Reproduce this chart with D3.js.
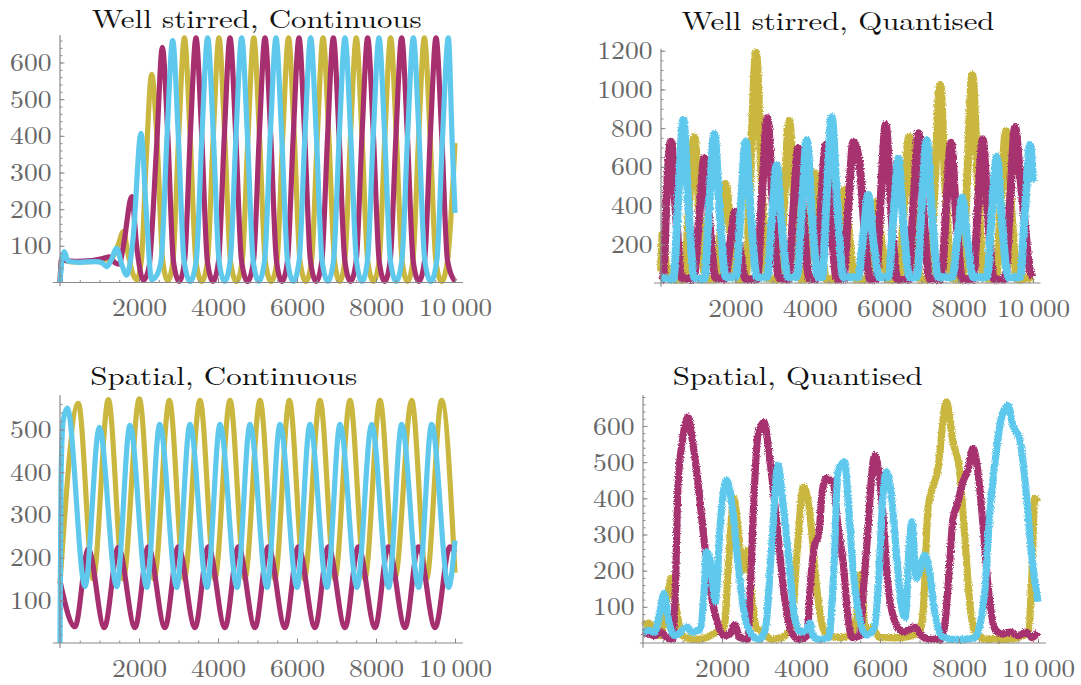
<!DOCTYPE html>
<html>
<head>
<meta charset="utf-8">
<script src="https://cdn.jsdelivr.net/npm/d3@7"></script>
<style>
  body { margin: 0; background: #fff; }
  svg { display: block; }
  .tick text { font-family: "Latin Modern Roman", "CMU Serif", "Liberation Serif", serif; font-size: 25px; fill: #666; }
  .title { font-family: "Latin Modern Roman", "CMU Serif", "Liberation Serif", serif; font-size: 26px; fill: #111; }
</style>
</head>
<body>
<svg id="chart" width="1081" height="685">
  <defs>
    <!-- ragged edges for the stochastic (quantised) traces -->
    <filter id="ragged" x="-2%" y="-5%" width="104%" height="110%">
      <feTurbulence type="fractalNoise" baseFrequency="0.9" numOctaves="1" seed="4" result="noise"/>
      <feDisplacementMap in="SourceGraphic" in2="noise" scale="4" xChannelSelector="R" yChannelSelector="G"/>
    </filter>
  </defs>
</svg>
<script>
// ---- Series: [time, amount] ----

// Well stirred, continuous
const wsContYellow = [[0,0],[40,62],[120,60],[300,56],[600,56],[900,58],[1150,62],[1350,72],[1480,105],[1603,139],[1720,80],[1840,25],[1942,8],[2060,60],[2180,330],[2321,568],[2460,380],[2600,60],[2730,5],[2860,60],[3005,400],[3150,667],[3295,400],[3440,60],[3588,3],[3735,60],[3880,400],[4025,667],[4170,400],[4315,60],[4465,3],[4615,60],[4760,400],[4905,667],[5050,400],[5195,60],[5345,3],[5495,60],[5640,400],[5785,667],[5930,400],[6075,60],[6223,3],[6370,60],[6515,400],[6660,667],[6805,400],[6950,60],[7080,3],[7210,60],[7355,400],[7500,667],[7645,400],[7790,60],[7935,3],[8080,60],[8225,400],[8370,667],[8515,400],[8660,60],[8797,3],[8935,60],[9080,400],[9224,667],[9370,400],[9515,60],[9660,3],[9810,60],[10000,380]];
const wsContMagenta = [[0,0],[40,64],[120,60],[400,58],[800,60],[1100,66],[1250,70],[1380,55],[1500,50],[1620,110],[1814,234],[1950,90],[2110,6],[2250,40],[2450,380],[2591,641],[2730,400],[2870,60],[3017,3],[3155,60],[3298,400],[3443,667],[3588,400],[3730,60],[3873,3],[4015,60],[4160,400],[4304,667],[4450,400],[4595,60],[4747,3],[4900,60],[5045,400],[5190,667],[5335,400],[5480,60],[5620,3],[5760,60],[5905,400],[6051,667],[6195,400],[6340,60],[6485,3],[6630,60],[6775,400],[6920,667],[7065,400],[7210,60],[7355,3],[7500,60],[7645,400],[7789,667],[7935,400],[8080,60],[8220,3],[8360,60],[8505,400],[8650,667],[8795,400],[8940,60],[9085,3],[9230,60],[9375,400],[9519,667],[9665,400],[9810,60],[10000,3]];
const wsContCyan = [[0,0],[50,62],[109,84],[200,58],[500,55],[900,57],[1060,54],[1181,43],[1300,62],[1435,93],[1560,50],[1688,20],[1850,120],[2051,407],[2180,200],[2320,8],[2450,20],[2560,60],[2710,400],[2852,660],[2995,400],[3140,60],[3295,3],[3450,60],[3593,400],[3738,667],[3883,400],[4025,60],[4168,3],[4310,60],[4455,400],[4599,667],[4745,400],[4890,60],[5033,3],[5180,60],[5323,400],[5468,667],[5613,400],[5760,60],[5907,3],[6055,60],[6200,400],[6346,667],[6490,400],[6635,60],[6780,3],[6925,60],[7070,400],[7215,667],[7360,400],[7505,60],[7645,3],[7785,60],[7930,400],[8076,667],[8220,400],[8365,60],[8510,3],[8655,60],[8800,400],[8945,667],[9090,400],[9235,60],[9388,3],[9540,60],[9686,400],[9831,667],[9930,380],[10000,190]];

// Well stirred, quantised
const wsQuantYellow = [[0,60],[50,250],[130,100],[250,20],[620,20],[760,420],[896,756],[1030,380],[1200,20],[1470,20],[1610,280],[1738,511],[1870,260],[2040,20],[2270,20],[2420,650],[2554,1190],[2690,600],[2860,25],[3180,20],[3320,460],[3449,837],[3580,420],[3760,20],[3880,20],[4010,310],[4140,567],[4270,290],[4440,20],[4670,20],[4800,260],[4930,480],[5060,240],[5230,20],[5540,20],[5670,230],[5798,417],[5930,210],[6100,20],[6400,20],[6540,420],[6667,756],[6800,380],[6970,20],[7220,20],[7370,560],[7500,1023],[7640,510],[7810,25],[8090,20],[8240,590],[8369,1075],[8510,540],[8680,25],[9000,20],[9140,430],[9274,787],[9410,400],[9580,20],[10000,30]];
const wsQuantMagenta = [[0,10],[60,30],[150,450],[269,730],[400,360],[560,25],[870,20],[1030,350],[1165,644],[1300,320],[1470,25],[1720,20],[1860,200],[1989,368],[2120,180],[2280,20],[2580,20],[2720,470],[2858,851],[3000,420],[3170,25],[3420,20],[3560,380],[3691,696],[3830,340],[3990,20],[4170,20],[4300,390],[4427,713],[4560,350],[4730,20],[4900,20],[5040,400],[5170,730],[5350,590],[5480,250],[5620,20],[5780,20],[5910,450],[6040,816],[6180,400],[6350,20],[6650,20],[6790,420],[6917,773],[7050,380],[7220,20],[7530,20],[7670,400],[7796,725],[7930,360],[8100,20],[8390,20],[8520,400],[8648,742],[8780,370],[8950,20],[9250,20],[9390,440],[9516,804],[9650,560],[9785,300],[9900,80],[10000,30]];
const wsQuantCyan = [[0,30],[100,25],[330,20],[470,460],[600,842],[730,420],[900,25],[1160,20],[1300,420],[1433,770],[1570,390],[1740,30],[2010,30],[2150,400],[2276,730],[2410,370],[2580,30],[2850,30],[2980,330],[3110,610],[3240,310],[3410,30],[3650,30],[3790,400],[3917,739],[4050,370],[4220,30],[4330,30],[4460,470],[4588,856],[4730,430],[4900,30],[5300,30],[5440,250],[5573,455],[5700,230],[5870,30],[6110,30],[6250,350],[6379,640],[6510,320],[6680,30],[6880,30],[7010,400],[7142,739],[7280,370],[7450,30],[7830,30],[7970,240],[8100,441],[8230,220],[8400,30],[8760,30],[8890,360],[9024,652],[9160,330],[9330,30],[9650,30],[9790,390],[9919,713],[10000,520]];

// Spatial, continuous
const spContYellow = [[0,140],[464,561],[839,150],[1224,570],[1599,150],[2008,572],[2383,150],[2768,568],[3143,150],[3544,568],[3919,150],[4304,568],[4679,150],[5063,568],[5438,150],[5806,568],[6181,150],[6582,568],[6957,150],[7342,568],[7717,150],[8101,568],[8476,150],[8903,568],[9278,150],[9662,568],[10000,165]];
const spContMagenta = [[0,145],[380,38],[717,220],[1122,36],[1477,224],[1899,36],[2236,225],[2658,36],[2996,225],[3418,36],[3755,225],[4177,36],[4515,225],[4937,36],[5274,225],[5697,36],[6034,225],[6457,36],[6793,225],[7217,36],[7553,225],[7977,36],[8312,225],[8737,36],[9072,225],[9497,36],[9873,225],[10000,212]];
const spContCyan = [[0,0],[25,380],[80,520],[186,550],[633,132],[996,505],[1435,132],[1772,510],[2194,130],[2525,512],[2955,130],[3291,512],[3721,130],[4051,512],[4481,130],[4810,512],[5240,130],[5570,512],[6000,130],[6329,512],[6759,130],[7089,512],[7519,130],[7890,512],[8320,130],[8650,512],[9080,130],[9409,512],[9839,130],[10000,240]];

// Spatial, quantised
const spQuantYellow = [[0,50],[150,55],[300,25],[450,20],[600,120],[717,179],[850,90],[1000,20],[1300,10],[1600,15],[1850,30],[2050,40],[2180,250],[2300,400],[2420,300],[2520,200],[2640,255],[2760,120],[2880,40],[3050,30],[3250,10],[3500,15],[3750,40],[3900,250],[4060,432],[4200,380],[4400,150],[4560,40],[4700,20],[5000,15],[5300,25],[5450,120],[5520,190],[5620,40],[5800,40],[6000,15],[6500,15],[7000,30],[7100,100],[7215,372],[7468,483],[7680,667],[7848,556],[8017,473],[8144,298],[8270,114],[8400,31],[8700,10],[9200,10],[9500,15],[9750,30],[9850,200],[9916,400],[10000,390]];
const spQuantMagenta = [[0,30],[150,25],[300,20],[450,30],[600,15],[750,10],[820,150],[886,436],[1000,560],[1139,625],[1250,560],[1350,483],[1561,271],[1688,160],[1899,50],[2050,20],[2200,25],[2321,50],[2450,15],[2650,10],[2700,100],[2785,344],[2911,575],[3063,611],[3207,510],[3418,298],[3587,123],[3755,30],[3950,10],[4150,20],[4250,180],[4346,271],[4450,300],[4540,420],[4641,455],[4818,440],[4937,320],[5070,220],[5190,68],[5300,15],[5500,20],[5580,150],[5654,252],[5865,519],[6033,410],[6203,160],[6413,50],[6600,30],[6878,45],[7050,20],[7300,10],[7544,10],[7650,60],[7750,200],[7848,344],[7950,380],[8101,446],[8230,480],[8354,538],[8480,473],[8608,326],[8734,160],[8903,40],[9100,25],[9300,30],[9500,20],[9700,30],[9850,15],[10000,30]];
const spQuantCyan = [[0,30],[150,35],[300,30],[420,80],[532,137],[650,60],[800,20],[1000,35],[1100,45],[1250,30],[1450,40],[1550,150],[1603,252],[1700,230],[1831,114],[1950,320],[2109,450],[2278,360],[2405,220],[2574,75],[2743,25],[2950,10],[3100,40],[3249,252],[3418,492],[3530,400],[3671,252],[3840,70],[4000,30],[4150,40],[4228,55],[4300,20],[4440,10],[4700,15],[4830,200],[4937,475],[5106,501],[5190,400],[5316,206],[5485,68],[5654,22],[5850,40],[5960,160],[6076,410],[6160,473],[6287,410],[6413,252],[6540,105],[6640,70],[6730,252],[6810,335],[6920,179],[7000,200],[7131,243],[7250,200],[7384,85],[7553,20],[7800,10],[8100,10],[8400,15],[8550,60],[8651,140],[8777,354],[8945,529],[9071,621],[9240,657],[9367,600],[9536,565],[9705,410],[9831,252],[10000,114]];

// ---- Tick labels ----
const xTickValues = [2000, 4000, 6000, 8000, 10000];
const yTicksWsCont = [100, 200, 300, 400, 500, 600];
const yTicksWsQuant = [200, 400, 600, 800, 1000, 1200];
const yTicksSpCont = [100, 200, 300, 400, 500];
const yTicksSpQuant = [100, 200, 300, 400, 500, 600];

const titles = ["Well stirred, Continuous", "Well stirred, Quantised", "Spatial, Continuous", "Spatial, Quantised"];

// ---- Styling ----
const seriesColors = ["#c9b740", "#a6306f", "#5fc8ed"];
const axisColor = "#8a8a8a";

// Frame of each panel: pixel positions of t=0 / t=10000 and of two reference values
const layouts = [
  { px0: 60,  px1: 455,  py0: 282.5, yRefVal: 600,  pyRef: 62.5,  axX: [-180, 10200], axY: [-10, 675],  yMinor: 20, title: [256.7, 28, 330], width: 5.2, ragged: false },
  { px0: 661, px1: 1033, py0: 283,   yRefVal: 1200, pyRef: 50.7,  axX: [-190, 10200], axY: [-20, 1210], yMinor: 50, title: [838, 30, 313], width: 8,   ragged: true },
  { px0: 60,  px1: 455,  py0: 643,   yRefVal: 500,  pyRef: 429.5, axX: [-180, 10200], axY: [-12, 580],  yMinor: 20, title: [223.7, 385, 267], width: 5.2, ragged: false },
  { px0: 643, px1: 1038, py0: 643,   yRefVal: 600,  pyRef: 426,   axX: [-80, 10200],  axY: [-13, 685],  yMinor: 20, title: [797.7, 385, 250], width: 7.2, ragged: true }
];

const panelSeries = [
  [wsContYellow, wsContMagenta, wsContCyan],
  [wsQuantYellow, wsQuantMagenta, wsQuantCyan],
  [spContYellow, spContMagenta, spContCyan],
  [spQuantYellow, spQuantMagenta, spQuantCyan]
];
const panelYTicks = [yTicksWsCont, yTicksWsQuant, yTicksSpCont, yTicksSpQuant];

const svg = d3.select("#chart");

const fmt = d => d >= 10000 ? d3.format(",")(d).replace(",", "\u2009") : String(d);
const labelWidth = s => s.replace(/\u2009/g, "").length * 13.8 + (s.includes("\u2009") ? 4 : 0);

layouts.forEach((L, i) => {
  const g = svg.append("g");
  const x = d3.scaleLinear().domain([0, 10000]).range([L.px0, L.px1]);
  const y = d3.scaleLinear().domain([0, L.yRefVal]).range([L.py0, L.pyRef]);

  // curves
  const line = d3.line().x(d => x(d[0])).y(d => y(d[1])).curve(d3.curveMonotoneX);
  const traces = g.append("g");
  if (L.ragged) traces.attr("filter", "url(#ragged)");
  panelSeries[i].forEach((s, k) => {
    traces.append("path")
      .attr("d", line(s))
      .attr("fill", "none")
      .attr("stroke", seriesColors[k])
      .attr("stroke-width", L.width)
      .attr("stroke-linejoin", "round");
  });

  // axes
  const axes = g.append("g").attr("color", axisColor);
  const xMinor = d3.range(500, L.axX[1], 500);
  const yMinor = d3.range(L.yMinor, L.axY[1], L.yMinor);

  axes.append("g").attr("transform", `translate(0,${y(0)})`)
    .call(d3.axisBottom(x).tickValues(xMinor).tickSize(-2.5).tickFormat(""))
    .call(a => a.select(".domain").remove());
  axes.append("g").attr("transform", `translate(${x(0)},0)`)
    .call(d3.axisLeft(y).tickValues(yMinor).tickSize(-2.5).tickFormat(""))
    .call(a => a.select(".domain").remove());

  const xa = axes.append("g").attr("transform", `translate(0,${y(0)})`)
    .call(d3.axisBottom(x).tickValues(xTickValues).tickSize(-4.5).tickPadding(16).tickFormat(fmt))
    .call(a => a.select(".domain").remove());
  const ya = axes.append("g").attr("transform", `translate(${x(0)},0)`)
    .call(d3.axisLeft(y).tickValues(panelYTicks[i]).tickSize(-4.5).tickPadding(8.5).tickFormat(fmt))
    .call(a => a.select(".domain").remove());
  [xa, ya].forEach(a => {
    a.attr("font-size", null).attr("font-family", null);
    a.selectAll(".tick text")
      .attr("textLength", function() { return labelWidth(this.textContent); })
      .attr("lengthAdjust", "spacingAndGlyphs");
  });

  axes.append("line")
    .attr("x1", x(L.axX[0])).attr("x2", x(L.axX[1]))
    .attr("y1", y(0)).attr("y2", y(0))
    .attr("stroke", axisColor).attr("stroke-width", 1.2);
  axes.append("line")
    .attr("x1", x(0)).attr("x2", x(0))
    .attr("y1", y(L.axY[0])).attr("y2", y(L.axY[1]))
    .attr("stroke", axisColor).attr("stroke-width", 1.2);

  // title
  g.append("text").attr("class", "title")
    .attr("x", L.title[0]).attr("y", L.title[1])
    .attr("text-anchor", "middle")
    .attr("textLength", L.title[2]).attr("lengthAdjust", "spacingAndGlyphs")
    .text(titles[i]);
});
</script>
</body>
</html>
